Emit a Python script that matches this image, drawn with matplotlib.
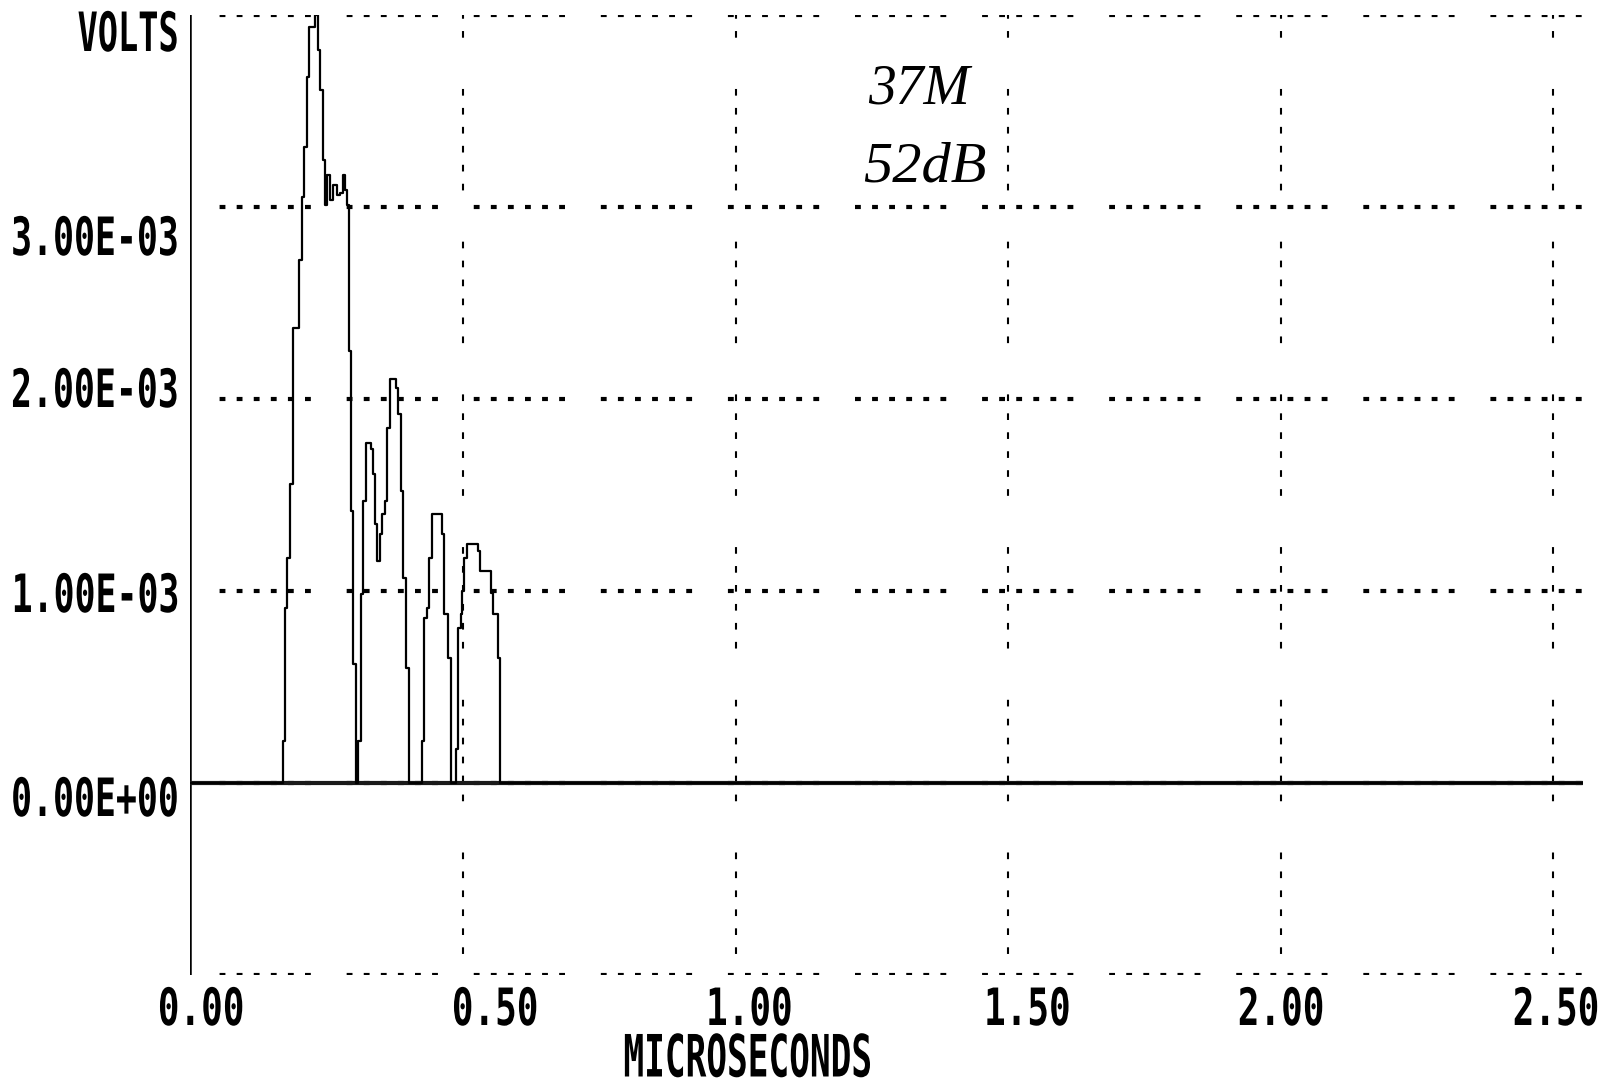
import matplotlib
matplotlib.use("Agg")
import matplotlib.pyplot as plt
from matplotlib import patheffects
from matplotlib.transforms import Affine2D

# step edges of the recorded pulse: time (microseconds) and level after the edge (millivolts)
time_us = [0.0, 0.1692, 0.1734, 0.1776, 0.1826, 0.1881, 0.1996, 0.2040, 0.2088, 0.2132,
           0.2180, 0.2284, 0.2334, 0.2376, 0.2426, 0.2468, 0.2505, 0.2560, 0.2615, 0.2688,
           0.2743, 0.2798, 0.2835, 0.2872, 0.2903, 0.2945, 0.2987, 0.3037,
           0.3073, 0.3128, 0.3171, 0.3220, 0.3306, 0.3343, 0.3385, 0.3428, 0.3477, 0.3519,
           0.3569, 0.3611, 0.3661, 0.3771, 0.3813, 0.3857, 0.3905, 0.3954, 0.4015,
           0.4242, 0.4284, 0.4334, 0.4376, 0.4426, 0.4615, 0.4651, 0.4716, 0.4771,
           0.4872, 0.4914, 0.4963, 0.4987, 0.5024, 0.5068, 0.5275, 0.5317, 0.5505, 0.5545,
           0.5637, 0.5679, 2.555]
level_mv = [0.0, 0.217, 0.911, 1.172, 1.559, 2.373, 2.723, 3.052, 3.313, 3.679,
            3.940, 4.000, 3.820, 3.611, 3.245, 3.010, 3.167, 3.036, 3.115, 3.063,
            3.073, 3.167, 3.089, 3.010, 2.253, 1.418, 0.619, 0.0,
            0.217, 0.984, 1.470, 1.773, 1.741, 1.611, 1.350, 1.157, 1.298, 1.402,
            1.470, 1.851, 2.107, 2.060, 1.924, 1.522, 1.068, 0.598, 0.0,
            0.217, 0.859, 0.911, 1.172, 1.402, 1.298, 0.880, 0.650, 0.0,
            0.180, 0.807, 0.880, 1.000, 1.172, 1.245, 1.209, 1.104, 0.990, 0.880,
            0.650, 0.0, 0.0]

x_grid = [0.5, 1.0, 1.5, 2.0, 2.5]
y_grid = [-1e-3, 0.0, 1e-3, 2e-3, 3e-3, 4e-3]
y_labels = ["3.00E-03", "2.00E-03", "1.00E-03", "0.00E+00"]
x_labels = ["0.00", "0.50", "1.00", "1.50", "2.00", "2.50"]
notes = ["37M", "52dB"]

W, H = 1606, 1086


class Squeeze(patheffects.AbstractPathEffect):
    """narrow the glyphs like the old dot-matrix printer font"""
    def __init__(self, sx, anchor="center"):
        super().__init__()
        self.sx = sx
        self.anchor = anchor

    def draw_path(self, renderer, gc, tpath, affine, rgbFace=None):
        bb = tpath.get_extents(affine)
        if self.anchor == "right":
            x0 = bb.x1
        elif self.anchor == "left":
            x0 = bb.x0
        else:
            x0 = (bb.x0 + bb.x1) / 2
        t = affine + Affine2D().translate(-x0, 0).scale(self.sx, 1).translate(x0, 0)
        renderer.draw_path(gc, tpath, t, rgbFace)


fig = plt.figure(figsize=(W / 100, H / 100), dpi=100)
ax = fig.add_axes([190.5 / W, 1 - 975 / H, (1583 - 190.5) / W, (975 - 15.4) / H])
ax.set_xlim(0, 2.555)
ax.set_ylim(-1e-3, 4e-3)
ax.axis("off")

# printer style grid: rows of little bars across, clusters of dashes down
hdash = [1.4, 2.7] * 5 + [1.4, 8.6]
for y in y_grid:
    ax.plot([0, 2.555], [y, y], color="black", lw=3.0, dash_capstyle="butt",
            linestyle=(23.4, hdash), zorder=1)
vdash = [3.2, 5.9] * 5 + [3.2, 24.6]
for x in x_grid:
    ax.plot([x, x], [4e-3, -1e-3], color="black", lw=1.5, dash_capstyle="butt",
            linestyle=(37.8, vdash), zorder=1)

ax.plot([0, 0], [4e-3, -1e-3], color="black", lw=1.8, zorder=2)
ax.axhline(0, color="#1a1a1a", lw=3.0, zorder=2)

volts = [v * 1e-3 for v in level_mv]
ax.step(time_us, volts, where="post", color="black", lw=1.6, zorder=3)


def put(px, py, s, size, sx, ha="center"):
    fig.text(px / W, 1 - py / H, s, ha=ha, va="center", fontsize=size,
             family="DejaVu Sans Mono", weight="bold",
             path_effects=[Squeeze(sx, ha)])


put(77, 36, "VOLTS", 39, 0.62, ha="left")
for s, py in zip(y_labels, [240, 392, 597, 801]):
    put(10, py, s, 38, 0.66, ha="left")
for s, px in zip(x_labels[:-1], [201, 495, 749, 1027, 1281]):
    put(px, 1011, s, 37, 0.70)
put(1600, 1011, x_labels[-1], 37, 0.70, ha="right")
put(748, 1060, "MICROSECONDS", 42, 0.59)

# handwritten notes
note_kw = dict(ha="center", va="center", family="Liberation Serif", style="italic")
fig.text(919 / W, 1 - 90 / H, notes[0], fontsize=40, **note_kw)
fig.text(925 / W, 1 - 167 / H, notes[1], fontsize=42, **note_kw)

fig.savefig("out.png", dpi=100, facecolor="white")
